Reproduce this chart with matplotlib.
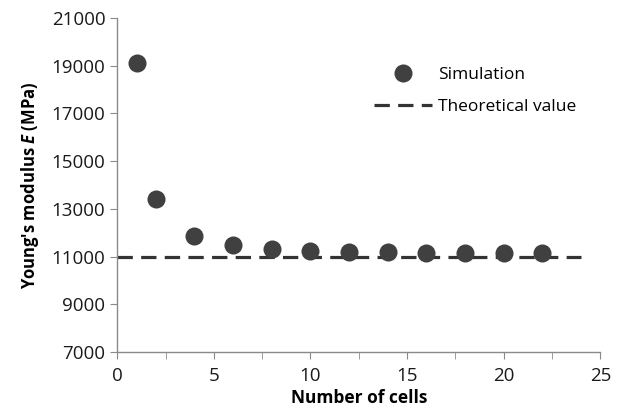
import matplotlib
matplotlib.use("Agg")
from matplotlib import pyplot as plt
from matplotlib.ticker import MultipleLocator

# Data
cells = [1, 2, 4, 6, 8, 10, 12, 14, 16, 18, 20, 22]
modulus = [19100, 13420, 11850, 11480, 11320, 11250, 11200, 11175, 11160, 11150, 11135, 11130]
theory_x = [0, 24]
theory_y = [11000, 11000]
y_ticks = [7000, 9000, 11000, 13000, 15000, 17000, 19000, 21000]

plt.rcParams["font.family"] = ["Open Sans", "DejaVu Sans"]
plt.rcParams["mathtext.fontset"] = "custom"
plt.rcParams["mathtext.it"] = "Open Sans:italic:bold"
plt.rcParams["mathtext.rm"] = "Open Sans:bold"

fig = plt.figure(figsize=(6.3, 4.19), dpi=100)
ax = fig.add_axes([0.186, 0.160, 0.767, 0.797])

ax.plot(cells, modulus, "o", color="#404040", markersize=13,
        markeredgewidth=0, label="Simulation", zorder=3)
ax.plot(theory_x, theory_y, "--", color="#333333", linewidth=2.3,
        dashes=(4.8, 2.6), label="Theoretical value", zorder=2)

ax.set_xlim(0, 25)
ax.set_ylim(7000, 21000)
ax.xaxis.set_major_locator(MultipleLocator(5))
ax.xaxis.set_minor_locator(MultipleLocator(2.5))
ax.set_yticks(y_ticks)

for side in ["top", "right"]:
    ax.spines[side].set_visible(False)
for side in ["left", "bottom"]:
    ax.spines[side].set_color("#8a8a8a")
    ax.spines[side].set_linewidth(1.0)

ax.tick_params(axis="both", which="both", direction="out", color="#8a8a8a",
               labelsize=13.5, labelcolor="#1a1a1a")
ax.tick_params(axis="both", which="major", length=5)
ax.tick_params(axis="x", which="minor", length=5)
ax.tick_params(axis="x", pad=6)

ax.set_xlabel("Number of cells", fontsize=12.5, fontweight="bold", labelpad=3)
ax.set_ylabel("Young's modulus $E$ (MPa)", fontsize=12, fontweight="bold", labelpad=8)

ax.legend(loc="upper left", bbox_to_anchor=(0.5, 0.9), frameon=False,
          fontsize=12.5, handlelength=3.3, handletextpad=0.35, labelspacing=0.9)

fig.savefig("out.png", dpi=100)
